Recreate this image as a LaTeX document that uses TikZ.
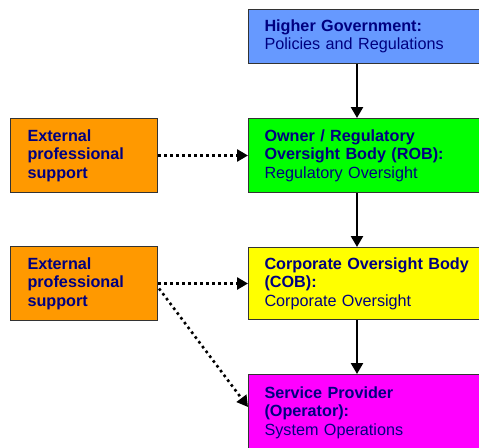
\documentclass[tikz,border=0pt]{standalone}
\usepackage{fontspec}
\setmainfont{Liberation Sans}
\usetikzlibrary{arrows.meta}
\definecolor{govblue}{HTML}{6699FF}
\definecolor{robgreen}{HTML}{00FF00}
\definecolor{cobyellow}{HTML}{FFFF00}
\definecolor{opmagenta}{HTML}{FF00FF}
\definecolor{extorange}{HTML}{FF9900}
\definecolor{txtnavy}{HTML}{000080}
\definecolor{rim}{HTML}{333333}
\tikzset{
  box/.style={draw=rim, line width=1pt, anchor=north west, align=left,
    text=txtnavy, inner ysep=0pt,
    font=\fontsize{16.2}{18.5}\selectfont},
  levelbox/.style={box, inner xsep=16pt, text width=212pt, minimum height=74pt},
  extbox/.style={box, inner xsep=17pt, text width=113pt, minimum height=74pt},
  flow/.style={draw=black, line width=2.5pt, -{Triangle[length=11pt,width=12pt]}},
  advice/.style={draw=black, line width=2.6pt, dash pattern=on 2.6pt off 3.4pt,
    -{Triangle[length=11pt,width=12pt]}}
}
\begin{document}
\begin{tikzpicture}[x=1pt, y=-1pt]
  \useasboundingbox (0,0) rectangle (479,447);
  \clip (0,0) rectangle (479,447);

  % chain of oversight, top to bottom
  \node[levelbox, fill=govblue, minimum height=54pt] (gov) at (248,9)
    {\textbf{Higher Government:}\\Policies and Regulations};
  \node[levelbox, fill=robgreen] (rob) at (248,118)
    {\textbf{Owner / Regulatory}\\\textbf{Oversight Body (ROB):}\\Regulatory Oversight};
  \node[levelbox, fill=cobyellow, minimum height=72pt] (cob) at (248,247)
    {\textbf{Corporate Oversight Body}\\\textbf{(COB):}\\Corporate Oversight};
  \node[levelbox, fill=opmagenta, minimum height=76pt] (op) at (248,374)
    {\textbf{Service Provider}\\\textbf{(Operator):}\\System Operations};

  % external support
  \node[extbox, fill=extorange] (ext1) at (10,118)
    {\textbf{External}\\\textbf{professional}\\\textbf{support}};
  \node[extbox, fill=extorange] (ext2) at (10,246)
    {\textbf{External}\\\textbf{professional}\\\textbf{support}};

  % solid reporting arrows
  \draw[flow] ([xshift=109pt]gov.south west) -- ([xshift=109pt]rob.north west);
  \draw[flow] ([xshift=109pt]rob.south west) -- ([xshift=109pt]cob.north west);
  \draw[flow] ([xshift=109pt]cob.south west) -- ([xshift=109pt]op.north west);

  % dotted support arrows
  \draw[advice] (ext1.east) -- (ext1.east -| rob.west);
  \draw[advice] (ext2.east) -- (ext2.east -| cob.west);
  \draw[advice] ([xshift=1pt,yshift=-5pt]ext2.east) -- ([yshift=-33pt]op.north west);
\end{tikzpicture}
\end{document}
